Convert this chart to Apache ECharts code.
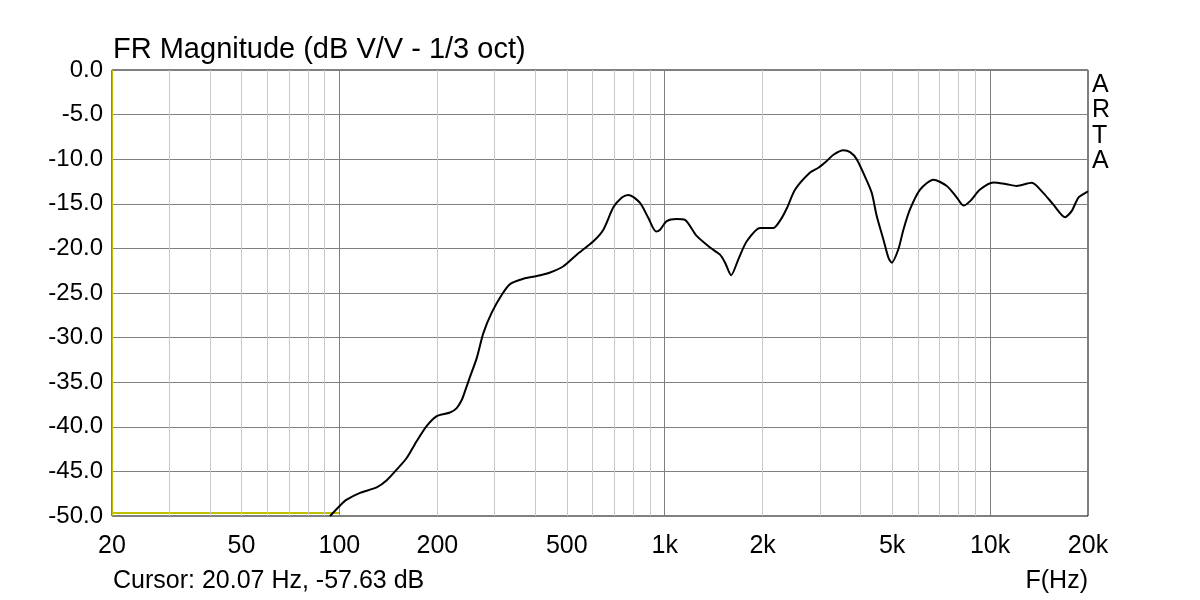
<!DOCTYPE html>
<html>
<head>
<meta charset="utf-8">
<script src="https://cdn.jsdelivr.net/npm/echarts@6/dist/echarts.min.js"></script>
<style>html,body{margin:0;padding:0;background:#fff}#c{width:1200px;height:600px}</style>
</head>
<body>
<div id="c"></div>
<script>
// Frequency response curve (Hz, dB)
const freqHz = [93.6,100,105,115.7,130.2,139.8,151.7,161,172.9,185.6,199.2,218.8,229.4,237.7,243.3,250.9,264.3,277,293.9,315.6,334.6,367.9,404.3,444.2,488.2,536.5,603.5,647.6,695.3,738.4,773.7,839.5,890.7,940.4,967.5,1014,1088,1154,1254,1378,1479,1533,1600,1685,1787,1964,2159,2270,2373,2517,2797,2967,3148,3300,3541,3713,3891,4179,4330,4486,4700,4871,4987,5225,5415,5677,6094,6694,7363,7904,8282,8683,9315,10235,11250,12070,13430,14590,15660,17000,17830,18690,19830,20000];
const magDb = [-50.0,-48.9,-48.2,-47.4,-46.8,-46.0,-44.6,-43.5,-41.6,-39.9,-38.8,-38.4,-37.9,-37.0,-36.0,-34.6,-32.3,-29.5,-27.2,-25.2,-24.0,-23.4,-23.1,-22.7,-22.0,-20.7,-19.2,-17.9,-15.4,-14.3,-14.0,-14.9,-16.6,-18.1,-17.9,-16.95,-16.7,-16.8,-18.6,-19.9,-20.7,-21.6,-23.0,-21.2,-19.2,-17.7,-17.7,-16.8,-15.5,-13.4,-11.5,-10.96,-10.2,-9.5,-9.0,-9.2,-10.0,-12.4,-13.8,-16.4,-19.0,-21.05,-21.6,-20.1,-17.9,-15.6,-13.4,-12.3,-13.0,-14.3,-15.2,-14.7,-13.4,-12.6,-12.8,-13.0,-12.65,-13.8,-15.1,-16.5,-15.8,-14.3,-13.7,-13.6];
// Second (yellow) trace
const traceFreq = [20, 100];
const traceDb = [-49.65, -49.65];
// Cursor
const cursorHz = 20.07;
const cursorDb = -57.63;
// Axis ticks
const xTickValues = [20,50,100,200,500,1000,2000,5000,10000,20000];
const xTickLabels = ['20','50','100','200','500','1k','2k','5k','10k','20k'];
const majorGridHz = [100,1000,10000];
const minorGridHz = [30,40,50,60,70,80,90,200,300,400,500,600,700,800,900,2000,3000,4000,5000,6000,7000,8000,9000];

const FONT = '"Liberation Sans", Arial, sans-serif';
const chart = echarts.init(document.getElementById('c'), null, {renderer:'canvas'});
chart.setOption({
  animation: false,
  backgroundColor: '#fff',
  grid: {left: 112, right: 112, top: 70, bottom: 84, show: true, borderColor: '#000', borderWidth: 1, backgroundColor: 'transparent'},
  xAxis: {
    type: 'log', logBase: 10, min: 20, max: 20000,
    axisLine: {show: false}, axisTick: {show: false}, axisLabel: {show: false}, splitLine: {show: false}
  },
  yAxis: {
    type: 'value', min: -50, max: 0, interval: 5,
    axisLine: {show: false}, axisTick: {show: false},
    axisLabel: {color: '#000', fontSize: 24, fontFamily: FONT, margin: 9, formatter: v => v.toFixed(1)},
    splitLine: {show: true, lineStyle: {color: '#808080', width: 1}}
  },
  graphic: [
    {type: 'text', left: 113, top: 35, style: {text: 'FR Magnitude (dB V/V - 1/3 oct)', fontSize: 29, fontFamily: FONT, fill: '#000'}},
    {type: 'text', left: 113, top: 569, style: {text: 'Cursor: ' + cursorHz.toFixed(2) + ' Hz, ' + cursorDb.toFixed(2) + ' dB', fontSize: 25, fontFamily: FONT, fill: '#000'}},
    {type: 'text', right: 112, top: 569, style: {text: 'F(Hz)', fontSize: 25, fontFamily: FONT, fill: '#000'}},
    {type: 'text', left: 1092, top: 72, style: {text: 'A\nR\nT\nA', fontSize: 25, lineHeight: 25.5, fontFamily: FONT, fill: '#000', align: 'left'}}
  ],
  series: [
    {type: 'line', data: [], silent: true, z: 1,
      markLine: {silent: true, symbol: ['none','none'], animation: false, label: {show: false},
        lineStyle: {color: '#c8c8c8', type: 'solid', width: 1},
        data: minorGridHz.map(v => ({xAxis: v}))}},
    {type: 'line', data: [], silent: true, z: 2,
      markLine: {silent: true, symbol: ['none','none'], animation: false, label: {show: false},
        lineStyle: {color: '#808080', type: 'solid', width: 1},
        data: majorGridHz.map(v => ({xAxis: v}))}},
    {type: 'line', data: [], silent: true, z: 2,
      markLine: {silent: true, symbol: ['none','none'], animation: false,
        label: {show: true, position: 'start', distance: 18, formatter: '{b}', color: '#000', fontSize: 25, fontFamily: FONT},
        lineStyle: {color: 'rgba(0,0,0,0)', width: 0},
        data: xTickValues.map((v, i) => ({xAxis: v, name: xTickLabels[i]}))}},
    {type: 'line', name: 'trace2', data: traceFreq.map((f, i) => [f, traceDb[i]]), symbol: 'none', z: 3,
      lineStyle: {color: '#c0c000', width: 2}},
    {type: 'line', data: [], silent: true, z: 4,
      markLine: {silent: true, symbol: ['none','none'], animation: false, label: {show: false},
        lineStyle: {color: '#c0c000', type: 'solid', width: 1},
        data: [{xAxis: cursorHz}]}},
    {type: 'line', name: 'FR', data: freqHz.map((f, i) => [f, magDb[i]]), symbol: 'none', smooth: 0.25, z: 5,
      lineStyle: {color: '#000', width: 2}}
  ]
});
</script>
</body>
</html>
